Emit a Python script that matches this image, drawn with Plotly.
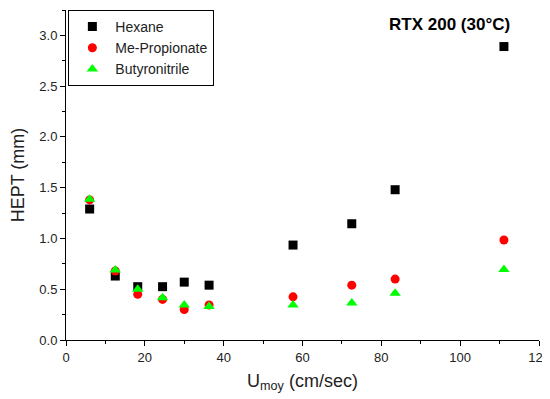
import plotly.graph_objects as go

u_moy = [6.0, 12.5, 18.2, 24.5, 30.0, 36.3, 57.6, 72.5, 83.5, 111.1]
hexane = [1.29, 0.63, 0.525, 0.525, 0.57, 0.54, 0.935, 1.145, 1.48, 2.89]
me_propionate = [1.38, 0.68, 0.45, 0.40, 0.30, 0.345, 0.425, 0.54, 0.60, 0.985]
butyronitrile = [1.385, 0.69, 0.50, 0.415, 0.345, 0.33, 0.345, 0.365, 0.46, 0.695]

series = [
    ("Hexane", hexane, "black", "square", 9),
    ("Me-Propionate", me_propionate, "red", "circle", 9),
    ("Butyronitrile", butyronitrile, "#00ff00", "triangle-up", 10),
]

fig = go.Figure()
for name, vals, col, sym, sz in series:
    fig.add_trace(go.Scatter(
        x=u_moy, y=vals, mode="markers", name=name,
        marker=dict(color=col, symbol=sym, size=sz, line=dict(width=0)),
    ))

axis_style = dict(
    showline=True, linecolor="black", linewidth=1,
    showgrid=False, zeroline=False, automargin=False,
    ticks="outside", ticklen=5, tickcolor="black",
    tickfont=dict(size=13, color="#222"),
)

fig.update_xaxes(
    range=[0, 120], dtick=20, tick0=0,
    minor=dict(dtick=10, ticks="outside", ticklen=3, tickcolor="black"),
    title=dict(text="U<sub>moy</sub> (cm/sec)", font=dict(size=18, color="#222"), standoff=10),
    **axis_style,
)
fig.update_yaxes(
    range=[0, 3.25], dtick=0.5, tick0=0, tickformat=".1f",
    minor=dict(dtick=0.25, ticks="outside", ticklen=3, tickcolor="black"),
    title=dict(text="HEPT (mm)", font=dict(size=18, color="#222"), standoff=10),
    **axis_style,
)

fig.add_annotation(
    x=97.3, y=3.11, xref="x", yref="y",
    text="<b>RTX 200 (30°C)</b>", showarrow=False,
    font=dict(size=17, color="black"),
)

# page body has an 8px margin, so the figure is sized to fit the window
fig.update_layout(
    width=542, height=391,
    margin=dict(l=58, r=11, t=2, b=59, autoexpand=False),
    plot_bgcolor="white", paper_bgcolor="white",
    font=dict(family="Liberation Sans, Arial, sans-serif"),
    legend=dict(
        x=0.005, y=1.0, xanchor="left", yanchor="top",
        bordercolor="black", borderwidth=1, bgcolor="white",
        font=dict(size=14, color="#222"),
        itemwidth=36, tracegroupgap=0,
    ),
)

fig.write_html("out.html")
